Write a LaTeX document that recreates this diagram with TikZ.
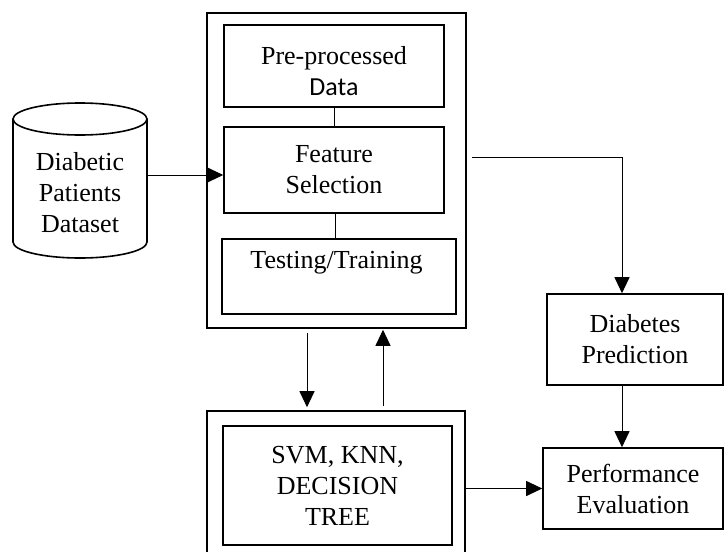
\documentclass[tikz,border=0pt]{standalone}
\usepackage{fontspec}
\setmainfont{Liberation Serif}
\newfontfamily\datafont{Carlito}
\usetikzlibrary{arrows.meta}
\tikzset{
  txt/.style={font=\rmfamily\fontsize{26}{31}\selectfont, align=center, inner sep=0pt},
  frame/.style={draw, line width=1.6pt, inner sep=0pt},
  box/.style={frame, txt},
  link/.style={line width=1pt},
  arr/.style={link, -{Triangle[length=16pt,width=15pt]}}
}
\begin{document}
\begin{tikzpicture}[x=1pt,y=-1pt]
  \useasboundingbox (0,0) rectangle (724,552);
  \clip (0,0) rectangle (724,552);

  % data store
  \draw[line width=1.6pt] (13,119) -- (13,242) arc[start angle=180, end angle=360, x radius=67pt, y radius=16pt] -- (147,119);
  \draw[line width=1.6pt] (80,119) ellipse[x radius=67pt, y radius=16pt];
  \node[txt] (ds) at (80,193) {Diabetic\\Patients\\Dataset};
  \coordinate (dsout) at (147,175);

  % preprocessing block
  \node[frame, minimum width=259, minimum height=315] (top) at (336.5,170.5) {};
  \node[frame, minimum width=220, minimum height=82] (pre) at (334,66) {};
  \node[txt] (pretxt) at (334,71) {Pre-processed\\{\datafont Data}};
  \node[box, minimum width=220, minimum height=86] (feat) at (334,170) {Feature\\Selection};
  \node[frame, minimum width=234, minimum height=75] (tt) at (339,276.5) {};
  \node[txt] (tttxt) at (336.5,263) {Testing/Training};

  % classifier block
  \node[frame, minimum width=258, minimum height=159] (bot) at (336,490.5) {};
  \node[box, minimum width=229, minimum height=119] (clf) at (337.5,485.5) {SVM, KNN,\\DECISION\\TREE};

  % outputs
  \node[box, minimum width=176, minimum height=91] (diab) at (635,339.5) {Diabetes\\Prediction};
  \node[box, minimum width=180, minimum height=81] (perf) at (633,488.5) {Performance\\Evaluation};

  % connectors
  \draw[arr] (dsout) -- (feat.west |- dsout);
  \draw[link] (pre.south) -- (feat.north);
  \draw[link] ([xshift=1]feat.south) -- ([xshift=1]feat.south |- tt.north);

  \draw[arr, shorten <=4pt, shorten >=3pt] ([xshift=-29.5]top.south) -- ([xshift=-29.5]top.south |- bot.north);
  \draw[arr, shorten <=4pt, shorten >=1pt] ([xshift=46.5]top.south |- bot.north) -- ([xshift=46.5]top.south);

  \coordinate (tap) at (472,157);
  \coordinate (col) at (622,0);
  \draw[arr] (tap) -| (col |- diab.north);
  \draw[arr] (col |- diab.south) -- (col |- perf.north);
  \draw[arr] (bot.east |- perf.west) -- (perf.west);
\end{tikzpicture}
\end{document}
